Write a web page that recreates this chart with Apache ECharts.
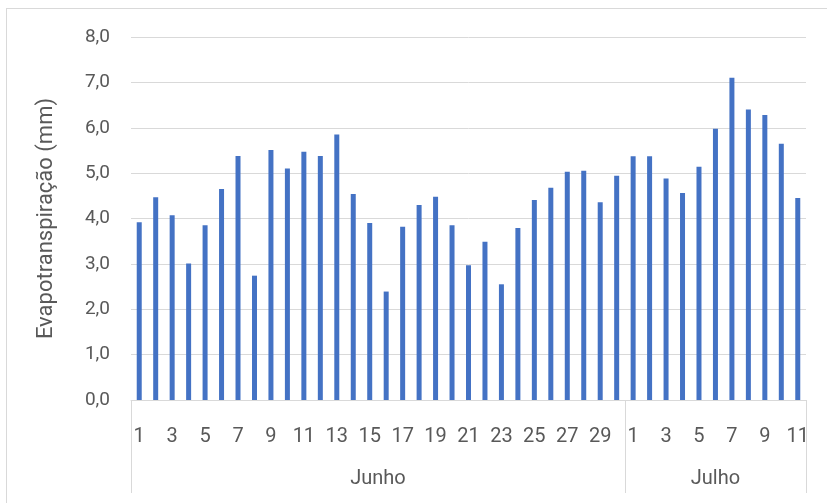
<!DOCTYPE html>
<html>
<head>
<meta charset="utf-8">
<script src="https://cdn.jsdelivr.net/npm/echarts@6/dist/echarts.min.js"></script>
<style>
html,body{margin:0;padding:0;background:#fff;}
#wrap{position:relative;width:827px;height:503px;overflow:hidden;}
#frame{position:absolute;left:6px;top:8px;width:900px;height:600px;border:1px solid #d9d9d9;box-sizing:border-box;}
#chart{position:absolute;left:0;top:0;width:827px;height:503px;}
</style>
</head>
<body>
<div id="wrap"><div id="frame"></div><div id="chart"></div></div>
<script>
// Data
const monthNames = ['Junho', 'Julho'];
const monthDays = [30, 11];
const evapo = [
  3.92, 4.47, 4.07, 3.01, 3.85, 4.65, 5.38, 2.74, 5.51, 5.10,
  5.47, 5.38, 5.85, 4.54, 3.90, 2.39, 3.82, 4.30, 4.48, 3.85,
  2.97, 3.49, 2.55, 3.79, 4.41, 4.68, 5.03, 5.05, 4.36, 4.94,
  5.37, 5.37, 4.88, 4.56, 5.14, 5.98, 7.10, 6.40, 6.28, 5.65, 4.45
];
const yTitle = 'Evapotranspiração (mm)';

// Build categories
const dayCats = [];
monthDays.forEach((n, m) => { for (let d = 1; d <= n; d++) dayCats.push(monthNames[m] + '-' + d); });
const totalDays = dayCats.length;
// half-step slots for the month level axis
const slots = [];
for (let i = 0; i <= totalDays * 2; i++) slots.push('');
const boundarySlots = [0];
const labelSlots = {};
let acc = 0;
monthDays.forEach((n, m) => {
  const start = acc * 2, end = (acc + n) * 2;
  labelSlots[(start + end) / 2] = monthNames[m];
  acc += n;
  boundarySlots.push(end);
});
Object.keys(labelSlots).forEach(k => { slots[+k] = labelSlots[k]; });

const txt = '#595959';
const grey = '#d9d9d9';
const font = 'Roboto';

const chart = echarts.init(document.getElementById('chart'), null, {renderer: 'canvas'});
chart.setOption({
  animation: false,
  grid: {left: 131, right: 21, top: 37, bottom: 103, containLabel: false},
  xAxis: [{
    type: 'category',
    data: dayCats,
    position: 'bottom',
    axisLine: {show: true, lineStyle: {color: grey, width: 1}},
    axisTick: {show: false},
    axisLabel: {
      interval: 1,
      margin: 27,
      color: txt, fontFamily: font, fontSize: 20,
      formatter: v => v.split('-')[1]
    },
    splitLine: {show: false}
  }, {
    type: 'category',
    data: slots,
    position: 'bottom',
    boundaryGap: false,
    axisLine: {show: false},
    axisTick: {
      show: true, length: 93, inside: false,
      interval: (i) => boundarySlots.indexOf(i) >= 0,
      lineStyle: {color: grey, width: 1}
    },
    axisLabel: {
      show: true, margin: 69,
      interval: (i) => slots[i] !== '',
      color: txt, fontFamily: font, fontSize: 20
    },
    splitLine: {show: false}
  }],
  yAxis: {
    type: 'value',
    min: 0, max: 8, interval: 1,
    name: yTitle,
    nameLocation: 'middle',
    nameGap: 74,
    nameRotate: 90,
    nameTextStyle: {color: txt, fontFamily: font, fontSize: 22},
    axisLine: {show: false},
    axisTick: {show: false},
    axisLabel: {
      margin: 21, color: txt, fontFamily: font, fontSize: 19,
      formatter: v => v.toFixed(1).replace('.', ',')
    },
    splitLine: {lineStyle: {color: grey, width: 1}}
  },
  series: [{
    type: 'bar',
    xAxisIndex: 0,
    data: evapo,
    barWidth: 5,
    itemStyle: {color: '#4472C4'}
  }]
});
</script>
</body>
</html>
